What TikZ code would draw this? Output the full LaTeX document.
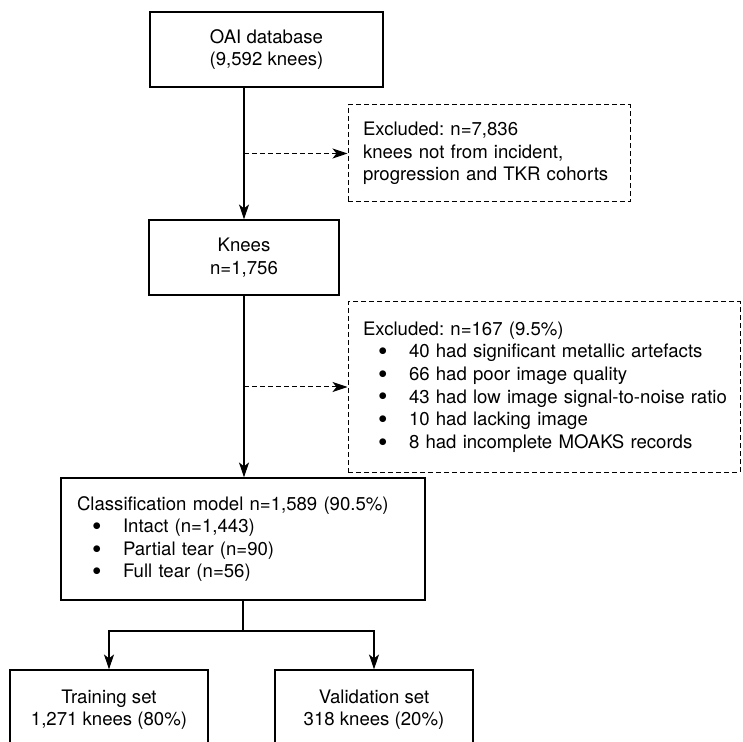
\documentclass[tikz,border=0pt]{standalone}
\usepackage{fontspec}
\setmainfont{TeX Gyre Heros}
\usetikzlibrary{arrows.meta}

\newcommand{\bitem}[1]{\\\hspace*{7.5pt}\makebox[15.5pt][l]{\smash{\raisebox{-0.15em}{\scalebox{1.45}{\textbullet}}}}\mbox{#1}}

\begin{document}
\frenchspacing
\begin{tikzpicture}[x=0.5pt, y=-0.5pt,
        font=\fontsize{9.3}{11.3}\selectfont,
        box/.style={draw, line width=0.55pt, inner sep=0pt, align=center},
        exbox/.style={draw, line width=0.5pt, dash pattern=on 2.5pt off 1.5pt, inner xsep=7.5pt, inner ysep=0pt, align=left},
        arr/.style={-{Stealth[length=7.5pt, width=5pt, inset=2pt]}, line width=0.55pt},
        darr/.style={-{Stealth[length=7.5pt, width=5pt, inset=2pt]}, line width=0.5pt, dash pattern=on 2.5pt off 1.5pt}]
        \useasboundingbox (0,0) rectangle (743,742);
        \clip (0,0) rectangle (743,742);

        % Nodes
        \node[box, minimum width=116.5pt, minimum height=37.5pt] (oai) at (266.5,49.5) {OAI database\\(9,592 knees)};
        \node[exbox, minimum height=48.5pt, text width=126pt] (excl1) at (489,153.5) {Excluded: n=7,836\\knees not from incident,\\progression and TKR cohorts};
        \node[box, minimum width=95pt, minimum height=37.5pt] (knees) at (244,257.5) {Knees\\n=1,756};
        \node[exbox, minimum height=85pt, text width=181pt] (excl2) at (544,387) {Excluded: n=167 (9.5\%)
            \bitem{40 had significant metallic artefacts}
            \bitem{66 had poor image quality}
            \bitem{43 had low image signal-to-noise ratio}
            \bitem{10 had lacking image}
            \bitem{8 had incomplete MOAKS records}};
        \node[box, minimum height=61pt, inner xsep=8pt, text width=166pt, align=left] (class) at (243,539) {Classification model n=1,589 (90.5\%)
            \bitem{Intact (n=1,443)}
            \bitem{Partial tear (n=90)}
            \bitem{Full tear (n=56)}};
        \node[box, minimum width=99pt, minimum height=39.5pt] (train) at (109,709.5) {Training set\\1,271 knees (80\%)};
        \node[box, minimum width=99pt, minimum height=39.5pt] (val) at (374,709.5) {Validation set\\318 knees (20\%)};
        \coordinate (split) at (243,631);

        % Edges
        \draw[arr] (knees.north |- oai.south) -- (knees.north);
        \draw[darr] (excl1.west -| knees.north) -- (excl1.west);
        \draw[arr] (knees.south) -- (class.north -| knees.south);
        \draw[darr] (excl2.west -| knees.south) -- (excl2.west);
        \draw[line width=0.55pt] (class.south) -- (split);
        \draw[arr] (split) -| (train.north);
        \draw[arr] (split) -| (val.north);
    \end{tikzpicture}
\end{document}
